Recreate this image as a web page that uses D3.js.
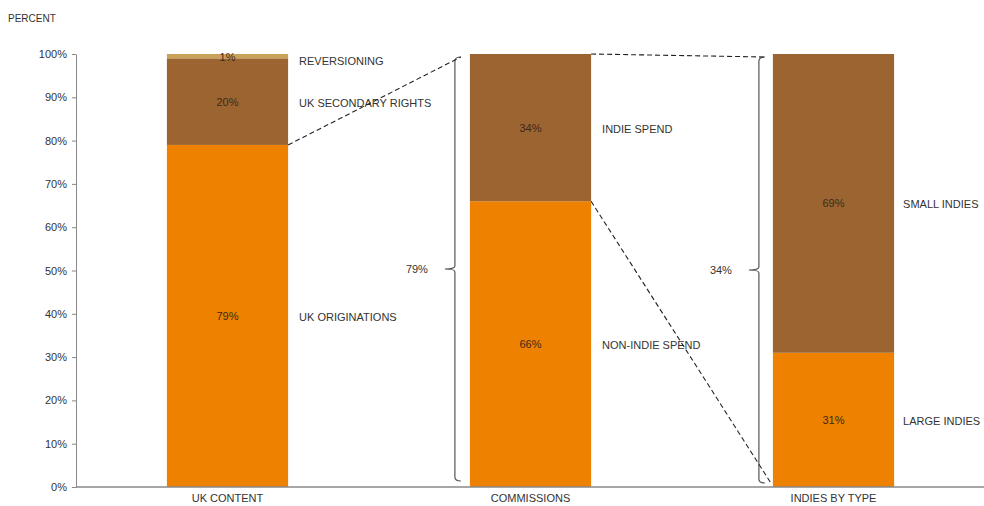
<!DOCTYPE html>
<html>
<head>
<meta charset="utf-8">
<script src="https://cdn.jsdelivr.net/npm/d3@7"></script>
<style>
  html, body { margin: 0; padding: 0; background: #fff; }
  svg { display: block; }
  text { font-family: "Liberation Sans", Arial, sans-serif; }
</style>
</head>
<body>
<svg id="chart" width="984" height="506"></svg>
<script>
// ---- data ----
const categories = ["UK CONTENT", "COMMISSIONS", "INDIES BY TYPE"];
const segmentNames = ["UK ORIGINATIONS", "UK SECONDARY  RIGHTS", "REVERSIONING"];
const ukContent = [79, 20, 1];
const commissionsNames = ["NON-INDIE  SPEND", "INDIE  SPEND"];
const commissions = [66, 34];
const indiesNames = ["LARGE INDIES", "SMALL INDIES"];
const indiesByType = [31, 69];
const yTicks = [0, 10, 20, 30, 40, 50, 60, 70, 80, 90, 100];
const braceLabels = ["79%", "34%"];

const colors = ["#EE8200", "#9C6431", "#C9A25A"];

const svg = d3.select("#chart");
const x = d3.scaleBand().domain(categories).range([76, 985]).paddingInner(0.6).paddingOuter(0.3);
const y = d3.scaleLinear().domain([0, 100]).range([487, 54]);

const bars = [
  { cat: categories[0], names: segmentNames, values: ukContent },
  { cat: categories[1], names: commissionsNames, values: commissions },
  { cat: categories[2], names: indiesNames, values: indiesByType }
];

bars.forEach(b => {
  let acc = 0;
  b.segs = b.values.map((v, i) => {
    const s = { y0: acc, y1: acc + v, v, name: b.names[i], color: colors[i] };
    acc += v;
    return s;
  });
});

// y axis
const yAxis = d3.axisLeft(y).tickValues(yTicks).tickFormat(d => d + "%").tickSize(4).tickSizeOuter(0);
const gy = svg.append("g").attr("transform", "translate(76,0)").call(yAxis);
gy.select(".domain").attr("stroke", "#888");
gy.selectAll(".tick line").attr("stroke", "#888");
gy.selectAll(".tick text").attr("font-size", 11).attr("fill", "#333").attr("x", -9)
  .attr("font-family", "Liberation Sans, Arial, sans-serif");

svg.append("text").attr("x", 8).attr("y", 22).attr("font-size", 10).attr("fill", "#333").text("PERCENT");

// bars
const bw = x.bandwidth();
bars.forEach((b, bi) => {
  const g = svg.append("g");
  g.selectAll("rect").data(b.segs).join("rect")
    .attr("x", x(b.cat)).attr("width", bw)
    .attr("y", d => y(d.y1)).attr("height", d => y(d.y0) - y(d.y1))
    .attr("fill", d => d.color);
  g.selectAll("text.val").data(b.segs).join("text").attr("class", "val")
    .attr("x", x(b.cat) + bw / 2)
    .attr("y", d => d.v < 3 ? y(d.y1) + 7 : y((d.y0 + d.y1) / 2) + 4)
    .attr("text-anchor", "middle").attr("font-size", 11).attr("fill", "#3a2a1a")
    .text(d => d.v + "%");
  g.selectAll("text.name").data(b.segs).join("text").attr("class", "name")
    .attr("x", x(b.cat) + bw + (bi === 2 ? 9 : 11))
    .attr("y", d => d.v < 3 ? y(d.y1) + 11 : y((d.y0 + d.y1) / 2) + 5)
    .attr("font-size", 11).attr("fill", "#333")
    .text(d => d.name);
});

// x axis
const xAxis = d3.axisBottom(x).tickSize(0).tickSizeOuter(0);
const gx = svg.append("g").attr("transform", "translate(0,487)").call(xAxis);
gx.select(".domain").attr("d", "M76,0H984").attr("stroke", "#888").attr("stroke-width", 1.5);
gx.selectAll(".tick text").attr("font-size", 11).attr("fill", "#333").attr("dy", "1.1em")
  .attr("font-family", "Liberation Sans, Arial, sans-serif");

// braces
function brace(xb, yTop, yBot, label) {
  const yMid = (yTop + yBot) / 2;
  const p = d3.path();
  p.moveTo(xb + 6, yTop);
  p.quadraticCurveTo(xb, yTop, xb, yTop + 4);
  p.lineTo(xb, yMid - 3);
  p.quadraticCurveTo(xb, yMid, xb - 10, yMid);
  p.quadraticCurveTo(xb, yMid, xb, yMid + 3);
  p.lineTo(xb, yBot - 4);
  p.quadraticCurveTo(xb, yBot, xb + 6, yBot);
  svg.append("path").attr("d", p.toString()).attr("fill", "none").attr("stroke", "#555").attr("stroke-width", 1.2);
  svg.append("text").attr("x", xb - 38).attr("y", yMid + 4).attr("text-anchor", "middle")
    .attr("font-size", 11).attr("fill", "#333").text(label);
}
const b2x = x(categories[1]) - 15;
const b3x = x(categories[2]) - 14;
brace(b2x, y(100) + 3, y(0) - 6, braceLabels[0]);
brace(b3x, y(100) + 3, y(0) - 4, braceLabels[1]);

// dashed connectors
const dash = (x1, y1, x2, y2) => svg.append("line")
  .attr("x1", x1).attr("y1", y1).attr("x2", x2).attr("y2", y2)
  .attr("stroke", "#222").attr("stroke-width", 1.1).attr("stroke-dasharray", "5,3");
dash(x(categories[0]) + bw, y(ukContent[0]), b2x + 6, y(100) + 3);
dash(x(categories[1]) + bw, y(100), b3x + 6, y(100) + 3);
dash(x(categories[1]) + bw, y(commissions[0]), b3x + 12, y(0) - 4);
</script>
</body>
</html>
